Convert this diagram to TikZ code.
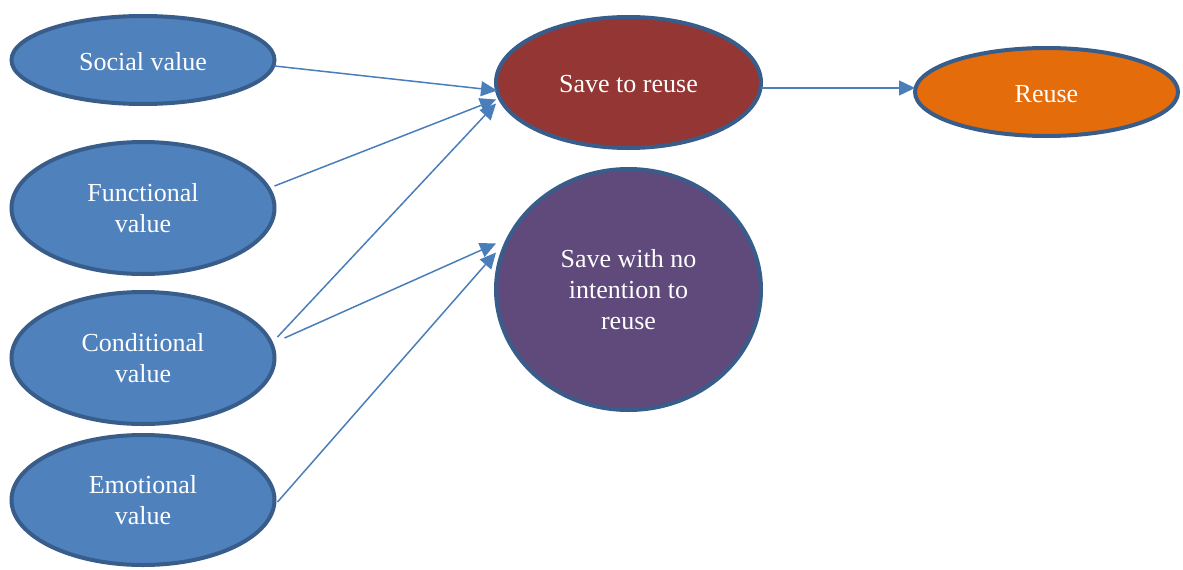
\documentclass[tikz,border=0pt]{standalone}
\usepackage{fontspec}
\setmainfont{Liberation Serif}
\usetikzlibrary{shapes.geometric,arrows.meta,calc}
\definecolor{bfill}{HTML}{4F81BD}
\definecolor{bdraw}{HTML}{385D8A}
\definecolor{redfill}{HTML}{943634}
\definecolor{purfill}{HTML}{604A7B}
\definecolor{orafill}{HTML}{E46C0A}
\definecolor{arr}{HTML}{4A7EBB}
\newcommand{\lowr}[1]{\raisebox{-2pt}[\height][\depth]{#1}}
\tikzset{
  oval/.style={ellipse, draw=bdraw, line width=4pt, inner sep=0pt, outer sep=0pt,
    text=white, align=center, font=\fontsize{26}{31}\selectfont},
  conn/.style={draw=arr, line width=1.5pt, -{Triangle[length=16pt,width=15pt]}},
}
\begin{document}
\begin{tikzpicture}[x=1pt,y=-1pt]
\useasboundingbox (0,0) rectangle (1183,570);
\node[oval, fill=bfill, minimum width=263pt, minimum height=88pt] (soc) at (143,60) {\lowr{Social value}};
\node[oval, fill=bfill, minimum width=263pt, minimum height=132pt] (fun) at (143,208) {Functional\\value};
\node[oval, fill=bfill, minimum width=263pt, minimum height=132pt] (con) at (143,358) {Conditional\\value};
\node[oval, fill=bfill, minimum width=263pt, minimum height=130pt] (emo) at (143,500) {Emotional\\value};
\node[oval, fill=redfill, minimum width=265pt, minimum height=131pt] (str) at (628.5,82.5) {\lowr{Save to reuse}};
\node[oval, fill=purfill, minimum width=265pt, minimum height=241pt] (swn) at (628.5,289.5) {Save with no\\intention to\\reuse};
\node[oval, fill=orafill, minimum width=263pt, minimum height=88pt] (reu) at (1046.5,92) {\lowr{Reuse}};

\draw[conn] ([yshift=-6pt]soc.east) -- ([yshift=-8pt,xshift=1pt]str.west);
\draw[conn] ([yshift=22pt]fun.east) -- ([yshift=-17pt]str.west);
\draw[conn] ([yshift=21pt,xshift=3pt]con.east) -- ([yshift=-21pt]str.west);
\draw[conn] ([yshift=20pt,xshift=10pt]con.east) -- ([yshift=46pt]swn.west);
\draw[conn] ([yshift=-2pt,xshift=3pt]emo.east) -- ([yshift=37pt]swn.west);
\draw[conn] ([yshift=-5.5pt]str.east) -- ([yshift=4pt]reu.west);
\end{tikzpicture}
\end{document}
